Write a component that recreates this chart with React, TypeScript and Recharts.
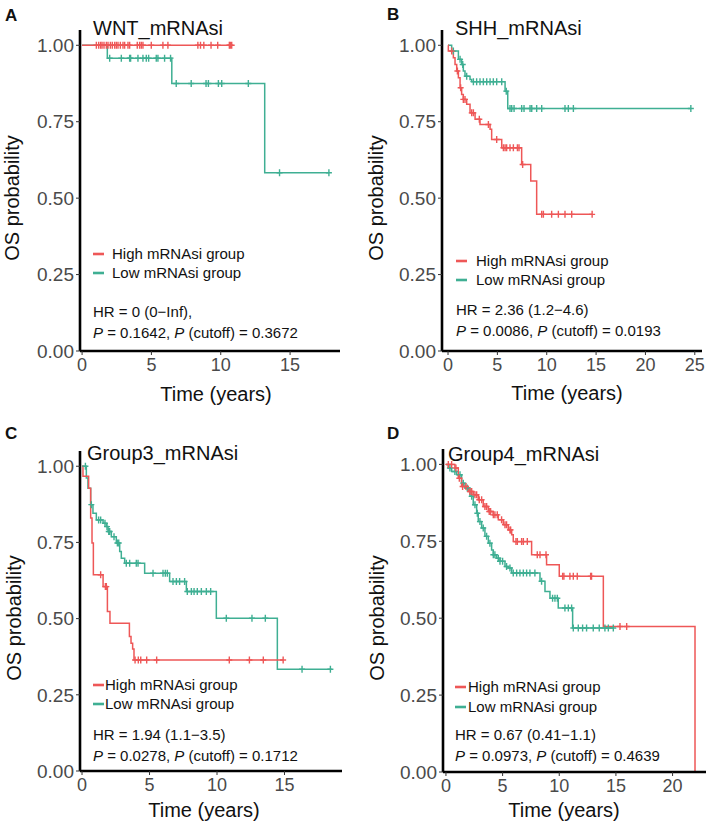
import React from 'react';
import { LineChart, Line, XAxis, YAxis } from 'recharts';

const HIGH = '#EE5757';
const LOW = '#3FAF93';
const FONT = '"Liberation Sans", Arial, sans-serif';

// ---- A: WNT_mRNAsi
const wntHighTime = [0, 10.8];
const wntHighSurv = [1, 1];
const wntHighCensor = [1.03, 1.2, 1.34, 1.44, 1.58, 1.75, 1.87, 2.04, 2.18, 2.35, 2.47, 2.59, 2.76, 2.95, 3.07, 3.31, 3.43, 3.98, 4.15, 4.27, 4.39, 4.99, 5.83, 6.19, 8.35, 8.54, 8.78, 9.3, 9.78, 10.62, 10.69, 10.79];
const wntLowTime = [0, 1.82, 6.47, 13.17, 17.8];
const wntLowSurv = [1, 0.958, 0.875, 0.583, 0.583];
const wntLowCensor = [1.99, 2.83, 3.43, 3.5, 4.03, 4.39, 4.63, 4.8, 5.35, 5.47, 5.95, 6.38, 6.79, 7.87, 8.94, 9.11, 9.83, 10.07, 11.99, 14.24, 17.8];

// ---- B: SHH_mRNAsi
const shhHighTime = [0, 0.03, 0.54, 0.71, 0.88, 1.05, 1.22, 1.38, 1.55, 1.89, 2.23, 2.74, 3.24, 4.26, 4.42, 5.44, 7.46, 8.38, 8.98, 14.6];
const shhHighSurv = [1, 0.981, 0.959, 0.937, 0.916, 0.894, 0.861, 0.839, 0.823, 0.807, 0.779, 0.758, 0.741, 0.725, 0.692, 0.665, 0.61, 0.556, 0.447, 0.447];
const shhHighCensor = [0.37, 0.95, 1.28, 1.55, 1.72, 2.4, 2.57, 3.17, 4.09, 4.93, 5.61, 5.78, 5.94, 6.28, 6.62, 7.03, 7.19, 7.56, 9.49, 9.66, 10.5, 11.18, 11.85, 12.53, 14.6];
const shhLowTime = [0, 0.37, 1.05, 1.38, 1.55, 1.72, 2.23, 2.4, 5.78, 6.05, 24.6];
const shhLowSurv = [1, 0.981, 0.954, 0.937, 0.916, 0.899, 0.888, 0.881, 0.85, 0.793, 0.793];
const shhLowCensor = [0.54, 1.22, 1.49, 1.89, 2.57, 2.9, 3.24, 3.58, 3.92, 4.26, 4.59, 4.93, 5.44, 5.9, 6.28, 6.45, 6.69, 7.46, 7.7, 8.31, 8.48, 8.98, 9.49, 11.85, 12.19, 12.7, 24.6];

// ---- C: Group3_mRNAsi
const g3HighTime = [0, 0.07, 0.49, 0.64, 0.74, 0.84, 1.56, 1.88, 2.07, 3.51, 3.63, 3.75, 3.85, 14.9];
const g3HighSurv = [1, 0.967, 0.928, 0.83, 0.748, 0.644, 0.605, 0.523, 0.485, 0.441, 0.419, 0.4, 0.364, 0.364];
const g3HighCensor = [1.38, 1.73, 1.8, 3.93, 4.17, 4.35, 4.79, 5.53, 10.91, 12.4, 13.43, 14.9];
const g3LowTime = [0, 0.32, 0.44, 0.64, 0.81, 1.06, 1.56, 1.8, 1.93, 2.17, 2.54, 2.79, 2.91, 3.16, 4.64, 6.49, 7.73, 9.95, 14.47, 18.5];
const g3LowSurv = [1, 0.961, 0.928, 0.874, 0.846, 0.824, 0.813, 0.802, 0.786, 0.769, 0.748, 0.72, 0.698, 0.682, 0.649, 0.622, 0.589, 0.501, 0.334, 0.334];
const g3LowCensor = [0.25, 0.69, 1.23, 1.38, 1.7, 1.85, 1.98, 2.05, 2.37, 2.62, 2.72, 3.28, 3.53, 4.02, 4.15, 5.26, 6.0, 6.17, 6.32, 6.74, 6.99, 7.23, 7.6, 7.8, 8.1, 8.3, 8.54, 8.84, 9.21, 9.53, 10.69, 12.59, 13.58, 16.3, 18.4];

// ---- D: Group4_mRNAsi
const g4HighTime = [0, 0.79, 1.09, 1.38, 1.97, 2.41, 2.85, 3.29, 3.74, 4.18, 4.62, 5.06, 5.5, 5.8, 5.94, 7.56, 8.88, 10.0, 13.89, 21.98];
const g4HighSurv = [1, 0.988, 0.955, 0.928, 0.912, 0.901, 0.885, 0.863, 0.847, 0.836, 0.82, 0.804, 0.787, 0.771, 0.749, 0.706, 0.674, 0.636, 0.473, 0];
const g4HighCensor = [0.21, 0.5, 0.88, 1.18, 1.47, 1.77, 2.12, 2.27, 2.56, 2.71, 2.94, 3.15, 3.44, 3.59, 3.82, 3.94, 4.18, 4.32, 4.53, 4.91, 5.21, 5.35, 5.65, 5.71, 6.18, 6.3, 6.68, 6.83, 7.18, 8.06, 8.3, 8.83, 10.3, 10.41, 10.94, 11.24, 11.59, 12.77, 12.85, 15.36, 15.95];
const g4LowTime = [0, 0.21, 0.5, 0.94, 1.38, 1.68, 2.12, 2.41, 2.71, 2.85, 3.15, 3.44, 3.74, 4.03, 4.18, 4.47, 4.77, 5.21, 5.5, 5.8, 8.3, 8.74, 9.18, 9.91, 11.18, 14.77];
const g4LowSurv = [1, 0.988, 0.977, 0.966, 0.939, 0.923, 0.896, 0.869, 0.841, 0.814, 0.793, 0.766, 0.744, 0.722, 0.706, 0.695, 0.685, 0.668, 0.663, 0.647, 0.62, 0.587, 0.565, 0.533, 0.468, 0.468];
const g4LowCensor = [0.35, 0.79, 1.24, 1.53, 1.88, 2.27, 2.56, 2.77, 3.0, 3.29, 3.59, 3.88, 4.18, 4.32, 4.62, 4.77, 5.0, 5.35, 5.65, 5.94, 6.24, 6.53, 6.83, 7.12, 7.41, 7.85, 8.44, 9.41, 9.62, 9.83, 10.5, 10.8, 11.09, 11.24, 11.68, 12.06, 12.41, 13.0, 13.53, 14.03, 14.33, 14.77];

const yTicks = [0, 0.25, 0.5, 0.75, 1];

const toSteps = (time: number[], surv: number[]) => time.map((t, i) => ({ t, s: surv[i] }));

// survival value of the curve at a censor time (step lookup)
const censorPts = (cens: number[], time: number[], surv: number[]) =>
  cens.map((c) => {
    let v = surv[0];
    time.forEach((t, i) => {
      if (t <= c) v = surv[i];
    });
    return { t: c, s: v };
  });

const plusDot = (color: string) => (p: any) => {
  const { cx, cy, index } = p;
  if (cx == null || cy == null) return <g key={index} />;
  return (
    <path
      key={index}
      d={`M${cx - 3},${cy}H${cx + 3}M${cx},${cy - 3.5}V${cy + 3.5}`}
      stroke={color}
      strokeWidth={1.4}
      fill="none"
    />
  );
};

interface Curve {
  time: number[];
  surv: number[];
  cens: number[];
}

interface PanelProps {
  left: number;
  top: number;
  width: number;
  height: number;
  margin: { top: number; right: number; bottom: number; left: number };
  yWidth: number;
  xHeight: number;
  xDomain: [number, number];
  xTicks: number[];
  high: Curve;
  low: Curve;
}

const KMPanel = ({ left, top, width, height, margin, yWidth, xHeight, xDomain, xTicks, high, low }: PanelProps) => {
  const axisLine = { stroke: '#000', strokeWidth: 2.6 };
  const tickX = { fill: '#4a4a4a', fontSize: 18, fontFamily: FONT };
  const tickY = { fill: '#4a4a4a', fontSize: 19, fontFamily: FONT };
  return (
    <div style={{ position: 'absolute', left, top }}>
      <LineChart width={width} height={height} margin={margin}>
        <XAxis
          dataKey="t"
          type="number"
          domain={xDomain}
          ticks={xTicks}
          allowDataOverflow
          height={xHeight}
          axisLine={axisLine}
          tickLine={{ stroke: '#333' }}
          tickSize={4}
          tickMargin={3}
          tick={tickX}
        />
        <YAxis
          dataKey="s"
          type="number"
          domain={[0, 1.05]}
          ticks={yTicks}
          allowDataOverflow
          width={yWidth}
          axisLine={axisLine}
          tickLine={{ stroke: '#333' }}
          tickSize={4}
          tickMargin={2}
          tick={tickY}
          tickFormatter={(v: number) => v.toFixed(2)}
        />
        <Line data={toSteps(low.time, low.surv)} dataKey="s" type="stepAfter" stroke={LOW} strokeWidth={1.5} dot={false} isAnimationActive={false} />
        <Line data={toSteps(high.time, high.surv)} dataKey="s" type="stepAfter" stroke={HIGH} strokeWidth={1.5} dot={false} isAnimationActive={false} />
        <Line data={censorPts(low.cens, low.time, low.surv)} dataKey="s" stroke="none" dot={plusDot(LOW)} isAnimationActive={false} />
        <Line data={censorPts(high.cens, high.time, high.surv)} dataKey="s" stroke="none" dot={plusDot(HIGH)} isAnimationActive={false} />
      </LineChart>
    </div>
  );
};

const T = ({ x, y, size, anchor = 'start', weight = 'normal', children }: any) => (
  <text x={x} y={y + size * 0.36} fontSize={size} fontFamily={FONT} fill="#111" textAnchor={anchor} fontWeight={weight}>
    {children}
  </text>
);

const YLab = ({ x, y }: { x: number; y: number }) => (
  <text
    x={x}
    y={y}
    fontSize={20}
    fontFamily={FONT}
    fill="#111"
    textAnchor="middle"
    dominantBaseline="central"
    transform={`rotate(-90 ${x} ${y})`}
  >
    OS probability
  </text>
);

const Legend = ({ kx, tx, y1, y2, hr, p, pc, hy1, hy2 }: any) => (
  <g>
    <line x1={kx} x2={kx + 11} y1={y1} y2={y1} stroke={HIGH} strokeWidth={2.6} />
    <line x1={kx} x2={kx + 11} y1={y2} y2={y2} stroke={LOW} strokeWidth={2.6} />
    <T x={tx} y={y1} size={15}>High mRNAsi group</T>
    <T x={tx} y={y2} size={15}>Low mRNAsi group</T>
    <T x={kx} y={hy1} size={15}>{hr}</T>
    <T x={kx} y={hy2} size={15}>
      <tspan fontStyle="italic">P</tspan>
      {` = ${p}, `}
      <tspan fontStyle="italic">P</tspan>
      {` (cutoff) = ${pc}`}
    </T>
  </g>
);

export default function App() {
  return (
    <div style={{ position: 'absolute', left: 0, top: 0, width: 709, height: 824, background: '#fff' }}>
      <KMPanel
        left={0}
        top={0}
        width={354}
        height={410}
        margin={{ top: 30, right: 14, bottom: 29, left: 0 }}
        yWidth={80}
        xHeight={30}
        xDomain={[-0.15, 18.6]}
        xTicks={[0, 5, 10, 15]}
        high={{ time: wntHighTime, surv: wntHighSurv, cens: wntHighCensor }}
        low={{ time: wntLowTime, surv: wntLowSurv, cens: wntLowCensor }}
      />
      <KMPanel
        left={354}
        top={0}
        width={355}
        height={410}
        margin={{ top: 30, right: 7, bottom: 29, left: 0 }}
        yWidth={88}
        xHeight={30}
        xDomain={[-0.61, 25.73]}
        xTicks={[0, 5, 10, 15, 20, 25]}
        high={{ time: shhHighTime, surv: shhHighSurv, cens: shhHighCensor }}
        low={{ time: shhLowTime, surv: shhLowSurv, cens: shhLowCensor }}
      />
      <KMPanel
        left={0}
        top={410}
        width={354}
        height={414}
        margin={{ top: 41, right: 12, bottom: 23, left: 0 }}
        yWidth={80}
        xHeight={30}
        xDomain={[-0.15, 19.26]}
        xTicks={[0, 5, 10, 15]}
        high={{ time: g3HighTime, surv: g3HighSurv, cens: g3HighCensor }}
        low={{ time: g3LowTime, surv: g3LowSurv, cens: g3LowCensor }}
      />
      <KMPanel
        left={354}
        top={410}
        width={355}
        height={414}
        margin={{ top: 39, right: 3, bottom: 22, left: 0 }}
        yWidth={89}
        xHeight={30}
        xDomain={[-0.26, 22.95]}
        xTicks={[0, 5, 10, 15, 20]}
        high={{ time: g4HighTime, surv: g4HighSurv, cens: g4HighCensor }}
        low={{ time: g4LowTime, surv: g4LowSurv, cens: g4LowCensor }}
      />
      <svg width={709} height={824} style={{ position: 'absolute', left: 0, top: 0, pointerEvents: 'none' }}>
        {/* A */}
        <T x={5} y={15} size={17} weight="bold">A</T>
        <T x={93} y={28} size={20}>WNT_mRNAsi</T>
        <YLab x={12} y={198} />
        <T x={216} y={394} size={20} anchor="middle">Time (years)</T>
        <Legend kx={93} tx={112} y1={254} y2={273} hr="HR = 0 (0−Inf)," p="0.1642" pc="0.3672" hy1={312} hy2={333} />
        {/* B */}
        <T x={387} y={14} size={17} weight="bold">B</T>
        <T x={455} y={28} size={20}>SHH_mRNAsi</T>
        <YLab x={376} y={198} />
        <T x={567} y={393} size={20} anchor="middle">Time (years)</T>
        <Legend kx={456} tx={476} y1={261} y2={280} hr="HR = 2.36 (1.2−4.6)" p="0.0086" pc="0.0193" hy1={310} hy2={331} />
        {/* C */}
        <T x={5} y={433} size={17} weight="bold">C</T>
        <T x={87} y={453} size={20}>Group3_mRNAsi</T>
        <YLab x={14} y={618} />
        <T x={204} y={810} size={20} anchor="middle">Time (years)</T>
        <Legend kx={93} tx={105} y1={685} y2={704} hr="HR = 1.94 (1.1−3.5)" p="0.0278" pc="0.1712" hy1={735} hy2={756} />
        {/* D */}
        <T x={387} y={433} size={17} weight="bold">D</T>
        <T x={448} y={454} size={20}>Group4_mRNAsi</T>
        <YLab x={377} y={618} />
        <T x={564} y={810} size={20} anchor="middle">Time (years)</T>
        <Legend kx={455} tx={468} y1={687} y2={707} hr="HR = 0.67 (0.41−1.1)" p="0.0973" pc="0.4639" hy1={735} hy2={756} />
      </svg>
    </div>
  );
}
